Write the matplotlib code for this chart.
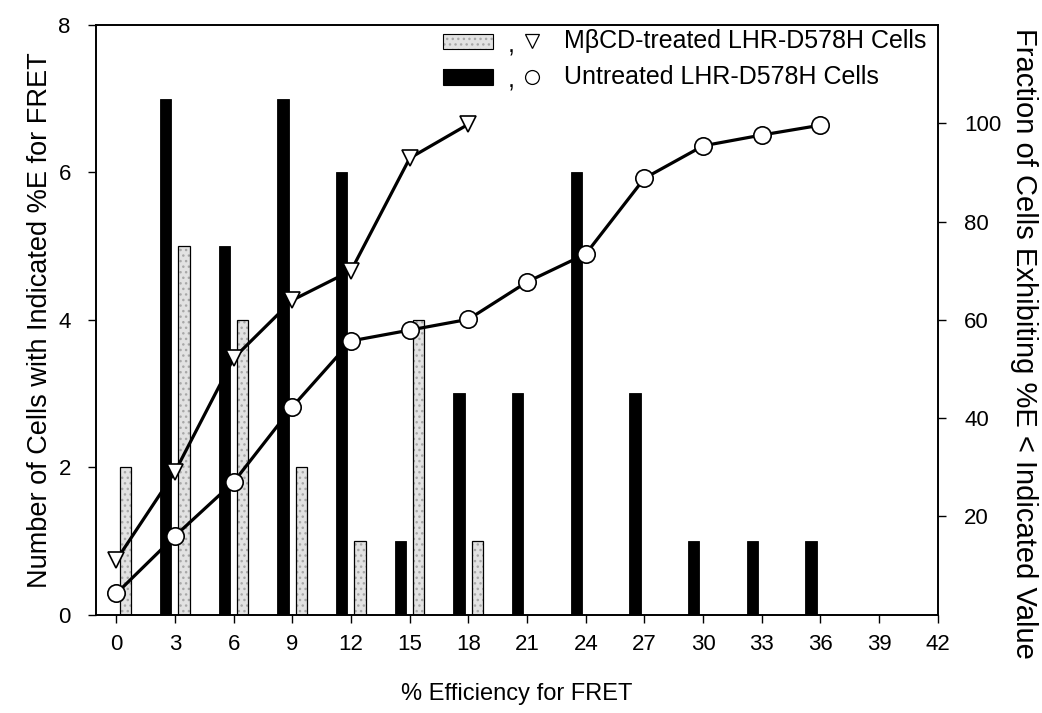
import numpy as np
import matplotlib
matplotlib.use('Agg')
import matplotlib.pyplot as plt
from matplotlib.patches import Rectangle
from matplotlib.lines import Line2D

plt.rcParams['font.family'] = ['Liberation Sans', 'DejaVu Sans']

# histogram bins (% FRET efficiency)
treated_bins = [0, 3, 6, 9, 12, 15, 18]
treated_counts = [2, 5, 4, 2, 1, 4, 1]
untreated_bins = [3, 6, 9, 12, 15, 18, 21, 24, 27, 30, 33, 36]
untreated_counts = [7, 5, 7, 6, 1, 3, 3, 6, 3, 1, 1, 1]

# cumulative fraction of cells (%)
treated_cum_x = [0, 3, 6, 9, 12, 15, 18]
treated_cum = [11.1, 29.1, 52.2, 64.0, 70.0, 92.9, 99.8]
untreated_cum_x = [0, 3, 6, 9, 12, 15, 18, 21, 24, 27, 30, 33, 36]
untreated_cum = [4.3, 16.0, 27.0, 42.3, 55.7, 57.9, 60.1, 67.7, 73.4, 88.8, 95.4, 97.6, 99.6]

xticks = list(range(0, 43, 3))
left_ticks = [0, 2, 4, 6, 8]
right_ticks = [20, 40, 60, 80, 100]

light = '#e2e2e2'
dots = '#a8a8a8'

fig = plt.figure(figsize=(10.42, 7.13), dpi=100)
ax = fig.add_axes([0.092, 0.138, 0.808, 0.827])
ax2 = ax.twinx()

bw = 0.58
ax.bar(np.array(untreated_bins) - 0.48, untreated_counts, width=bw,
       color='black', edgecolor='black', linewidth=0.6, zorder=2)
# stippled bars: gray dots first, black outline on top
ax.bar(np.array(treated_bins) + 0.45, treated_counts, width=bw,
       color=light, edgecolor=dots, linewidth=0, hatch='...', zorder=2)
ax.bar(np.array(treated_bins) + 0.45, treated_counts, width=bw,
       fill=False, edgecolor='black', linewidth=0.9, zorder=2)

ax2.plot(treated_cum_x, treated_cum, '-', color='black', lw=2.3,
         marker='v', ms=12, mfc='white', mec='black', mew=1.2, zorder=3)
ax2.plot(untreated_cum_x, untreated_cum, '-', color='black', lw=2.3,
         marker='o', ms=12.5, mfc='white', mec='black', mew=1.2, zorder=3)

ax.set_xlim(-1.05, 42)
ax.set_ylim(0, 8)
ax2.set_ylim(0, 120)
ax.set_xticks(xticks)
ax.set_yticks(left_ticks)
ax2.set_yticks(right_ticks)

ax.tick_params(axis='both', direction='out', length=6, width=1, labelsize=16)
ax2.tick_params(axis='y', direction='out', length=6, width=1, labelsize=16)
ax.tick_params(axis='x', pad=8)
ax.tick_params(axis='y', pad=12)
ax2.tick_params(axis='y', pad=13)
for a in (ax, ax2):
    for s in a.spines.values():
        s.set_linewidth(1.2)

ax.set_xlabel('% Efficiency for FRET', fontsize=17, labelpad=20)
ax.set_ylabel('Number of Cells with Indicated %E for FRET', fontsize=19.5, labelpad=4)
ax2.set_ylabel('Fraction of Cells Exhibiting %E < Indicated Value', fontsize=21,
               rotation=270, va='center')
ax2.yaxis.set_label_coords(1.102, 0.46)

# hand-built legend: patch , marker  label
rows = [(light, '...', 'v', 'M\u03b2CD-treated LHR-D578H Cells', 0.972),
        ('black', None, 'o', 'Untreated LHR-D578H Cells', 0.912)]
for fc, hatch, mk, label, yy in rows:
    ax.add_patch(Rectangle((0.412, yy - 0.013), 0.06, 0.026, transform=ax.transAxes,
                           facecolor=fc, edgecolor=dots if hatch else 'black', lw=0,
                           hatch=hatch, clip_on=False, zorder=4))
    ax.add_patch(Rectangle((0.412, yy - 0.013), 0.06, 0.026, transform=ax.transAxes,
                           fill=False, edgecolor='black', lw=0.8,
                           clip_on=False, zorder=4))
    ax.text(0.489, yy - 0.006, ',', transform=ax.transAxes, fontsize=18, va='center')
    ax.add_line(Line2D([0.518], [yy], transform=ax.transAxes, marker=mk, ms=10,
                       mfc='white', mec='black', mew=0.9, ls='none', zorder=4))
    ax.text(0.556, yy, label, transform=ax.transAxes, fontsize=18, va='center')

fig.savefig('out.png', dpi=100)
